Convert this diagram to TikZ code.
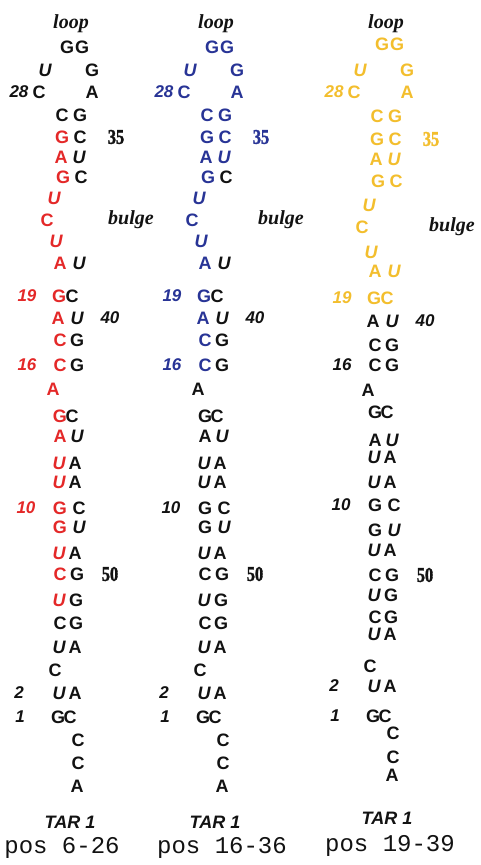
\documentclass[tikz,border=0pt]{standalone}
\usepackage{fontspec}
\newfontfamily\ntf{Liberation Sans}
\newfontfamily\serf{Liberation Serif}
\newfontfamily\serfn{Liberation Serif}[FakeStretch=0.78,FakeBold=1.5]
\newfontfamily\monof{Liberation Mono}
\definecolor{tred}{RGB}{228,40,40}
\definecolor{tblue}{RGB}{40,52,150}
\definecolor{tgold}{RGB}{243,190,45}
\definecolor{tblack}{RGB}{18,18,18}
\newcommand\R[1]{\csname rowy#1\endcsname}
\makeatletter
\def\stopmark@{\relax}
\def\setrows#1{\count@=0 \setrows@#1,\relax,}
\def\setrows@#1,{\def\tmp@{#1}\ifx\tmp@\stopmark@\else\advance\count@ by 1 \expandafter\xdef\csname rowy\the\count@\endcsname{#1}\expandafter\setrows@\fi}
\makeatother
\tikzset{
 txt/.style={inner sep=0pt, outer sep=0pt, text=tblack},
 nt/.style={txt, font=\ntf\bfseries\fontsize{18}{18}\selectfont},
 ntu/.style={txt, font=\ntf\bfseries\itshape\fontsize{18}{18}\selectfont},
 num/.style={txt, font=\ntf\bfseries\itshape\fontsize{17}{18}\selectfont},
 snum/.style={txt, font=\serfn\bfseries\fontsize{21}{22}\selectfont},
 lbl/.style={txt, font=\serf\bfseries\itshape\fontsize{20}{22}\selectfont},
 tar/.style={txt, font=\ntf\bfseries\itshape\fontsize{18}{20}\selectfont},
 postx/.style={txt, font=\monof\fontsize{24}{26}\selectfont},
 pA/.style={}, pB/.style={}, pC/.style={}, pD/.style={}, pE/.style={}, pF/.style={}
}
\newcommand\colbody{%
\node[lbl] (loop) at (71,\R{1}) {loop};
\node[nt,pD] (n30) at (67,\R{2}) {G};
\node[nt,pD] (n31) at (82,\R{2}) {G};
\node[ntu,pD] (n29) at (45,\R{3}) {U};
\node[nt,pD] (n32) at (92,\R{3}) {G};
\node[num,pD] (l28) at (19,\R{4}) {28};
\node[nt,pD] (n28) at (39,\R{4}) {C};
\node[nt,pD] (n33) at (92,\R{4}) {A};
\node[nt,pD] (n27) at (62,\R{5}) {C};
\node[nt,pD] (n34) at (80,\R{5}) {G};
\node[nt,pC] (n26) at (62,\R{6}) {G};
\node[nt,pE] (n35) at (80,\R{6}) {C};
\node[snum,pE] (l35) at (116,\R{6}) {35};
\node[nt,pC] (n25) at (61,\R{7}) {A};
\node[ntu,pE] (n36) at (79,\R{7}) {U};
\node[nt,pC] (n24) at (63,\R{8}) {G};
\node[nt,pF] (n37) at (81,\R{8}) {C};
\node[ntu,pC] (n23) at (54,\R{9}) {U};
\node[nt,pC] (n22) at (47,\R{10}) {C};
\node[lbl] (bulge) at (\bulgex,\R{10}) {bulge};
\node[ntu,pC] (n21) at (56,\R{11}) {U};
\node[nt,pC] (n20) at (60,\R{12}) {A};
\node[ntu,pF] (n38) at (79,\R{12}) {U};
\node[num,pC] (l19) at (27,\R{13}) {19};
\node[nt,pC] (n19) at (59,\R{13}) {G};
\node[nt,pF] (n39) at (72,\R{13}) {C};
\node[nt,pB] (n18) at (58,\R{14}) {A};
\node[ntu] (n40) at (77,\R{14}) {U};
\node[num] (l40) at (110,\R{14}) {40};
\node[nt,pB] (n17) at (60,\R{15}) {C};
\node[nt] (n41) at (77,\R{15}) {G};
\node[num,pB] (l16) at (27,\R{16}) {16};
\node[nt,pB] (n16) at (60,\R{16}) {C};
\node[nt] (n42) at (77,\R{16}) {G};
\node[nt,pA] (n15) at (53,\R{17}) {A};
\node[nt,pA] (n14) at (60,\R{18}) {G};
\node[nt] (n43) at (72,\R{18}) {C};
\node[nt,pA] (n13) at (60,\R{19}) {A};
\node[ntu] (n44) at (77,\R{19}) {U};
\node[ntu,pA] (n12) at (59,\R{20}) {U};
\node[nt] (n45) at (75,\R{20}) {A};
\node[ntu,pA] (n11) at (59,\R{21}) {U};
\node[nt] (n46) at (75,\R{21}) {A};
\node[num,pA] (l10) at (26,\R{22}) {10};
\node[nt,pA] (n10) at (60,\R{22}) {G};
\node[nt] (n47) at (79,\R{22}) {C};
\node[nt,pA] (n9) at (60,\R{23}) {G};
\node[ntu] (n48) at (79,\R{23}) {U};
\node[ntu,pA] (n8) at (59,\R{24}) {U};
\node[nt] (n49) at (75,\R{24}) {A};
\node[nt,pA] (n7) at (60,\R{25}) {C};
\node[nt] (n50) at (77,\R{25}) {G};
\node[snum] (l50) at (110,\R{25}) {50};
\node[ntu,pA] (n6) at (59,\R{26}) {U};
\node[nt] (n51) at (76,\R{26}) {G};
\node[nt] (n5) at (60,\R{27}) {C};
\node[nt] (n52) at (76,\R{27}) {G};
\node[ntu] (n4) at (59,\R{28}) {U};
\node[nt] (n53) at (75,\R{28}) {A};
\node[nt] (n3) at (55,\R{29}) {C};
\node[num] (l2) at (19,\R{30}) {2};
\node[ntu] (n2) at (59,\R{30}) {U};
\node[nt] (n54) at (75,\R{30}) {A};
\node[num] (l1) at (20,\R{31}) {1};
\node[nt] (n1) at (58,\R{31}) {G};
\node[nt] (n55) at (70,\R{31}) {C};
\node[nt] (n56) at (78,\R{32}) {C};
\node[nt] (n57) at (78,\R{33}) {C};
\node[nt] (n58) at (77,\R{34}) {A};
\node[tar] (tar) at (\tarx,\R{35}) {TAR 1};
\node[postx] (pos) at (\posx,\R{36}) {\postext};
}
\begin{document}
\begin{tikzpicture}[x=1pt,y=-1pt]
\useasboundingbox (0,0) rectangle (481,865);
\fill[white] (0,0) rectangle (481,865);
% columns 1 and 2: row heights
\setrows{24,47,70,92,115,137,157,177,198,220,241,263,296,318,340,365,389,416,436,463,482,508,527,553,574,600,623,647,670,693,717,740,763,786,822,848}
\def\bulgex{131}\def\tarx{70}\def\posx{62}\def\postext{pos 6-26}
\begin{scope}[name prefix=a-, pA/.style={text=tred}, pB/.style={text=tred}, pC/.style={text=tred}]
\colbody
\end{scope}
\def\bulgex{136}\def\tarx{70}\def\posx{77}\def\postext{pos 16-36}
\begin{scope}[xshift=145pt, name prefix=b-, pB/.style={text=tblue}, pC/.style={text=tblue}, pD/.style={text=tblue}, pE/.style={text=tblue}]
\colbody
\end{scope}
% column 3: row heights
\setrows{24,44,70,92,116,139,159,181,205,227,252,271,298,321,345,365,390,412,440,457,482,505,530,550,575,595,617,634,666,686,716,733,757,775,818,846}
\def\bulgex{137}\def\tarx{72}\def\posx{75}\def\postext{pos 19-39}
\begin{scope}[xshift=315pt, name prefix=c-, pC/.style={text=tgold}, pD/.style={text=tgold}, pE/.style={text=tgold}, pF/.style={text=tgold}]
\colbody
\end{scope}
\end{tikzpicture}
\end{document}
